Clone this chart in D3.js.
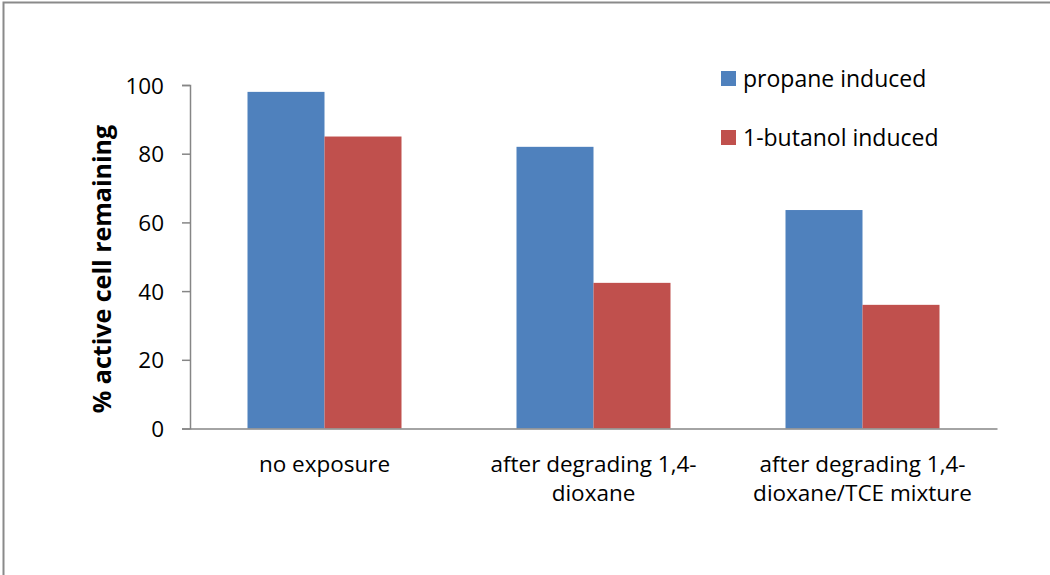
<!DOCTYPE html>
<html>
<head>
<meta charset="utf-8">
<script src="https://cdn.jsdelivr.net/npm/d3@7"></script>
<style>
  body { margin: 0; background: #fff; }
  svg { display: block; font-family: "Open Sans", sans-serif; }
</style>
</head>
<body>
<div id="chart"></div>
<script>
// data
var categories = ["no exposure", "after degrading 1,4-dioxane", "after degrading 1,4-dioxane/TCE mixture"];
var categoryLines = [["no exposure"], ["after degrading 1,4-", "dioxane"], ["after degrading 1,4-", "dioxane/TCE mixture"]];
var seriesNames = ["propane induced", "1-butanol induced"];
var propane = [98, 82, 63.6];
var butanol = [85, 42.4, 36];
var yTicks = [0, 20, 40, 60, 80, 100];
var colors = ["#4F81BD", "#C0504D"];

var width = 1050, height = 575;
var plotLeft = 190, plotRight = 997, plotTop = 85, plotBottom = 428.5;

var svg = d3.select("#chart").append("svg")
  .attr("width", width)
  .attr("height", height);

// outer frame (only top and left edges show)
svg.append("path")
  .attr("d", "M3.5," + height + "V2.5H" + width)
  .attr("fill", "none")
  .attr("stroke", "#8a8a8a")
  .attr("stroke-width", 2);

var y = d3.scaleLinear().domain([0, 100]).range([plotBottom, plotTop]);
var x0 = d3.scaleBand().domain(categories).range([plotLeft, plotRight])
  .paddingInner(0.4275).paddingOuter(0.21375);
var x1 = d3.scaleBand().domain(seriesNames).range([0, x0.bandwidth()]);

var rows = categories.map(function(c, i) {
  return { cat: c, vals: [propane[i], butanol[i]] };
});

// bars
var groups = svg.selectAll("g.grp").data(rows).enter().append("g")
  .attr("class", "grp")
  .attr("transform", function(d) { return "translate(" + x0(d.cat) + ",0)"; });

groups.selectAll("rect").data(function(d) {
    return d.vals.map(function(v, j) { return { name: seriesNames[j], v: v, j: j }; });
  }).enter().append("rect")
  .attr("x", function(d) { return x1(d.name); })
  .attr("y", function(d) { return y(d.v); })
  .attr("width", x1.bandwidth())
  .attr("height", function(d) { return plotBottom - y(d.v); })
  .attr("fill", function(d) { return colors[d.j]; });

// y axis
var yAxis = svg.append("g")
  .attr("transform", "translate(" + plotLeft + ",0)")
  .call(d3.axisLeft(y).tickValues(yTicks).tickSize(8).tickPadding(18));
yAxis.select(".domain").attr("stroke", "#868686").attr("stroke-width", 1.5);
yAxis.selectAll(".tick line").attr("stroke", "#868686").attr("stroke-width", 1.5);
yAxis.selectAll(".tick text")
  .attr("font-family", "Open Sans, sans-serif")
  .attr("font-size", 22.5)
  .attr("fill", "#000")
  .attr("dy", "0.36em");

// x axis
var xAxis = svg.append("g")
  .attr("transform", "translate(0," + plotBottom + ")")
  .call(d3.axisBottom(x0).tickSize(0).tickSizeOuter(0));
xAxis.select(".domain").attr("stroke", "#868686").attr("stroke-width", 1.5);
xAxis.selectAll(".tick text").each(function(d, i) {
  var t = d3.select(this).text(null)
    .attr("font-family", "Open Sans, sans-serif")
    .attr("font-size", 22.5)
    .attr("fill", "#000")
    .attr("y", 0).attr("dy", null);
  categoryLines[i].forEach(function(line, k) {
    t.append("tspan").attr("x", 0).attr("y", 43 + k * 29).text(line);
  });
});

// y title
svg.append("text")
  .attr("transform", "translate(111,269) rotate(-90)")
  .attr("text-anchor", "middle")
  .attr("font-weight", "bold")
  .attr("font-size", 25)
  .attr("fill", "#000")
  .text("% active cell remaining");

// legend
var legend = svg.selectAll("g.leg").data(seriesNames).enter().append("g")
  .attr("class", "leg")
  .attr("transform", function(d, i) { return "translate(721," + (71 + i * 59) + ")"; });
legend.append("rect")
  .attr("width", 15).attr("height", 15)
  .attr("fill", function(d, i) { return colors[i]; });
legend.append("text")
  .attr("x", 22).attr("y", 15.5)
  .attr("font-size", 23)
  .attr("fill", "#000")
  .text(function(d) { return d; });
</script>
</body>
</html>
